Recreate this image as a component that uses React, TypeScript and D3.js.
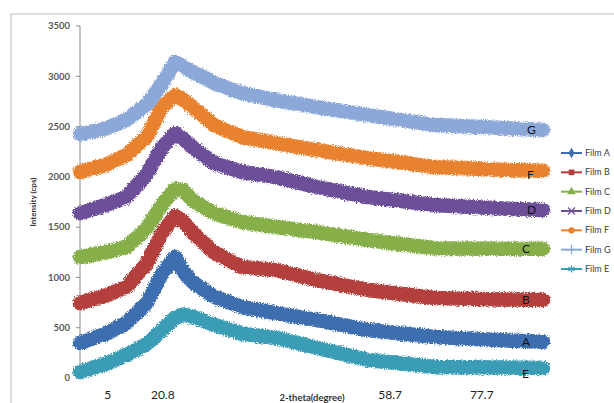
import React from 'react';
import * as d3 from 'd3';

// 2-theta sample positions (degrees) shared by every film
const twoTheta = [0, 5, 9, 13, 16, 18.5, 20, 22, 26, 31.5, 38, 46, 56, 69, 82, 90];

const filmA = [348, 440, 547, 746, 1044, 1203, 1060, 950, 810, 706, 646, 577, 477, 408, 375, 360];
const filmB = [746, 820, 905, 1140, 1450, 1610, 1560, 1441, 1250, 1103, 1074, 974, 875, 795, 780, 775];
const filmC = [1203, 1250, 1302, 1490, 1730, 1880, 1870, 1760, 1640, 1551, 1501, 1451, 1372, 1290, 1285, 1285];
const filmD = [1640, 1720, 1799, 2030, 2296, 2435, 2380, 2290, 2137, 2048, 1998, 1899, 1799, 1720, 1685, 1670];
const filmF = [2048, 2120, 2217, 2400, 2700, 2810, 2770, 2690, 2515, 2396, 2336, 2266, 2187, 2097, 2070, 2060];
const filmG = [2425, 2480, 2565, 2720, 2930, 3141, 3100, 3040, 2935, 2833, 2763, 2694, 2614, 2515, 2485, 2465];
const filmE = [60, 140, 230, 340, 480, 600, 630, 610, 530, 440, 400, 300, 179, 109, 105, 100];

const seriesNames = ['Film A', 'Film B', 'Film C', 'Film D', 'Film F', 'Film G', 'Film E'];
const seriesValues = [filmA, filmB, filmC, filmD, filmF, filmG, filmE];
const seriesColors = ['#3E6EB0', '#B4403D', '#86AF48', '#6C4F98', '#E9822E', '#8BA8D8', '#3A9CB6'];
const seriesTags = ['A', 'B', 'C', 'D', 'F', 'G', 'E'];
const markers = [d3.symbolDiamond, d3.symbolSquare, d3.symbolTriangle, d3.symbolTimes, d3.symbolCircle, d3.symbolPlus, d3.symbolAsterisk];
const strokeMarkers = [false, false, false, true, false, true, true];

const yTicks = [0, 500, 1000, 1500, 2000, 2500, 3000, 3500];
// x annotations typed under the plot, with where they sit on the 2-theta axis
const xLabelText = ['5', '20.8', '58.7', '77.7'];
const xLabelAt = [5.4, 16.1, 60.3, 78.1];

const W = 614;
const H = 403;
const font = "Lato, 'Liberation Sans', sans-serif";

export default function App() {
  const x = d3.scaleLinear().domain([0, 90]).range([80, 543]);
  const y = d3.scaleLinear().domain([0, 3500]).range([378, 26]);
  const line = d3.line<number>()
    .x((_, i) => x(twoTheta[i]))
    .y((d) => y(d));

  const tagX = [522, 522, 522, 527, 527, 527, 522];
  const legendY = d3.scaleLinear().domain([0, 6]).range([153, 269]);

  return (
    <svg width={W} height={H} style={{ position: 'absolute', left: 0, top: 0, background: '#fff' }}>
      <defs>
        <filter id="fuzz" x="-5%" y="-20%" width="110%" height="140%">
          <feTurbulence type="fractalNoise" baseFrequency="0.9" numOctaves="2" seed="3" result="n" />
          <feDisplacementMap in="SourceGraphic" in2="n" scale="5" xChannelSelector="R" yChannelSelector="G" />
        </filter>
      </defs>
      <rect x={11} y={14} width={W} height={H} fill="#fff" stroke="#d4d4d4" strokeWidth={1.5} />

      {/* y axis */}
      <line x1={80} x2={80} y1={y(3500)} y2={y(0)} stroke="#8c8c8c" />
      {yTicks.map((t) => (
        <g key={t}>
          <line x1={76} x2={80} y1={y(t)} y2={y(t)} stroke="#8c8c8c" />
          <text x={70} y={y(t)} dy="0.35em" textAnchor="end" fontFamily={font} fontWeight="bold" fontSize={9.5} fill="#595959">
            {t}
          </text>
        </g>
      ))}
      <text transform={`translate(36,${y(1750)}) rotate(-90)`} textAnchor="middle" fontFamily={font} fontWeight="bold" fontSize={8} fill="#333">
        Intensity (cps)
      </text>

      {/* bands */}
      <g filter="url(#fuzz)">
        {seriesValues.map((vals, i) => (
          <path key={seriesNames[i]} d={line(vals) || ''} fill="none" stroke={seriesColors[i]} strokeWidth={14.5} strokeLinejoin="round" strokeLinecap="round" />
        ))}
      </g>

      {/* film tags */}
      {seriesValues.map((vals, i) => (
        <text key={seriesTags[i]} x={tagX[i]} y={y(vals[vals.length - 1]) + (i === 4 ? 8 : i === 6 ? 10 : 4)} fontFamily={font} fontSize={12} fill="#111">
          {seriesTags[i]}
        </text>
      ))}

      {/* x annotations */}
      {xLabelText.map((t, i) => (
        <text key={t} x={x(xLabelAt[i])} y={399} textAnchor="middle" fontFamily={font} fontSize={12} fill="#222">
          {t}
        </text>
      ))}
      <text x={312} y={401} textAnchor="middle" fontFamily={font} fontWeight="bold" fontSize={9.5} fill="#333">
        2-theta(degree)
      </text>

      {/* legend */}
      {seriesNames.map((n, i) => {
        const ly = legendY(i);
        const sym = d3.symbol(markers[i], strokeMarkers[i] ? 34 : 32)();
        return (
          <g key={n}>
            <line x1={561} x2={582} y1={ly} y2={ly} stroke={seriesColors[i]} strokeWidth={2} />
            <path
              d={sym || ''}
              transform={`translate(571.5,${ly})`}
              fill={strokeMarkers[i] ? 'none' : seriesColors[i]}
              stroke={seriesColors[i]}
              strokeWidth={strokeMarkers[i] ? 1.2 : 0}
            />
            <text x={585} y={ly} dy="0.35em" fontFamily={font} fontSize={9} fill="#404040">
              {n}
            </text>
          </g>
        );
      })}
    </svg>
  );
}
